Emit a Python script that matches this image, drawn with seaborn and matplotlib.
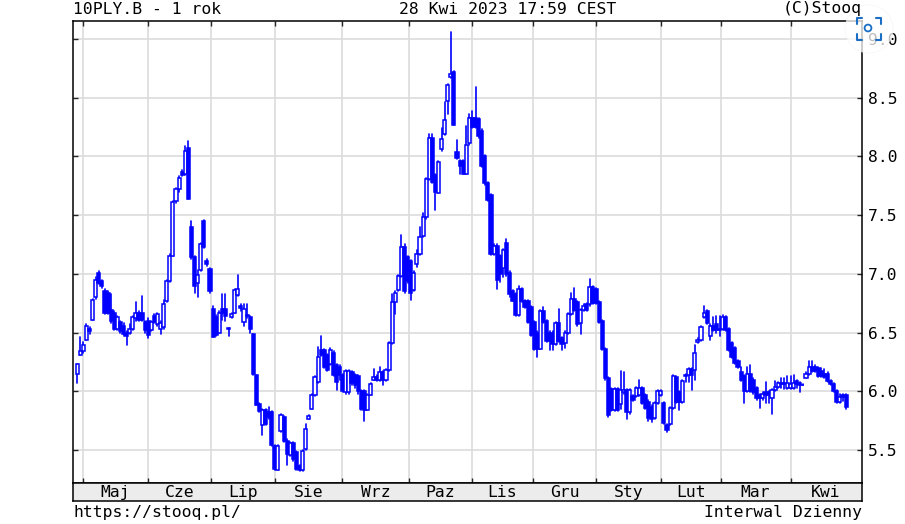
# stooq style candles, 10PLY.B - 1 rok
import numpy as np
import pandas as pd
import matplotlib
matplotlib.use("Agg")
import matplotlib.pyplot as plt
from matplotlib.patches import Circle
import seaborn as sns

opens = [6.15,6.31,6.34,6.44,6.53,6.61,6.80,7.01,6.94,6.85,
6.84,6.69,6.67,6.53,6.59,6.56,6.50,6.50,6.53,6.62,
6.67,6.67,6.59,6.60,6.52,6.64,6.57,6.53,6.55,6.77,
6.94,7.155,7.62,7.72,7.87,7.85,8.07,7.40,7.14,6.92,
7.03,7.45,7.11,7.04,6.70,6.63,6.50,6.70,6.70,6.535,
6.63,6.67,6.82,6.73,6.59,6.65,6.63,6.49,6.14,5.89,
5.71,5.84,5.82,5.82,5.53,5.33,5.66,5.78,5.58,5.46,
5.56,5.48,5.36,5.33,5.51,5.765,5.85,5.97,6.08,6.35,
6.35,6.31,6.235,6.33,6.22,6.21,6.14,5.99,5.99,6.16,
6.14,6.13,6.00,6.00,5.84,5.97,6.10,6.12,6.10,6.16,
6.10,6.18,6.41,6.76,6.86,6.98,7.23,7.14,7.11,6.86,
7.08,7.17,7.32,7.48,7.81,8.16,7.84,7.69,8.06,8.19,
8.47,8.68,8.72,8.04,7.96,7.96,7.85,8.11,8.33,8.33,
8.32,8.22,8.00,7.77,7.67,7.17,7.24,7.15,7.05,7.26,
7.01,6.85,6.83,6.65,6.87,6.77,6.77,6.72,6.59,6.50,
6.36,6.68,6.60,6.50,6.50,6.40,6.58,6.45,6.41,6.50,
6.66,6.79,6.76,6.58,6.69,6.74,6.74,6.89,6.87,6.76,
6.60,6.36,6.11,6.02,5.84,6.02,5.89,5.99,6.01,5.82,
5.96,5.96,5.97,6.03,5.97,5.91,5.87,5.77,5.90,5.97,
5.90,5.71,5.72,5.86,6.12,5.99,5.91,6.13,6.14,6.19,
6.18,6.42,6.44,6.63,6.68,6.47,6.56,6.57,6.52,6.53,
6.63,6.53,6.41,6.37,6.26,6.16,6.13,6.00,6.15,6.10,
6.03,5.97,5.94,5.99,5.99,5.94,6.01,6.04,6.07,6.07,
6.03,6.03,6.03,6.09,6.07,6.055,6.115,6.15,6.21,6.21,
6.20,6.17,6.15,6.15,6.09,6.06,6.00,5.91,5.97,5.97]

closes = [6.23,6.34,6.39,6.56,6.51,6.78,6.95,6.92,6.90,6.67,
6.67,6.60,6.53,6.63,6.51,6.49,6.47,6.53,6.63,6.67,
6.61,6.61,6.52,6.48,6.59,6.59,6.66,6.58,6.74,6.94,
7.15,7.615,7.72,7.82,7.84,8.05,7.64,7.14,6.90,6.99,
7.25,7.23,7.08,6.85,6.46,6.48,6.67,6.67,6.64,6.53,
6.66,6.86,6.87,6.71,6.70,6.64,6.53,6.145,5.88,5.83,
5.84,5.72,5.78,5.54,5.34,5.53,5.80,5.58,5.47,5.56,
5.42,5.34,5.33,5.49,5.68,5.79,5.97,6.12,6.29,6.31,
6.21,6.18,6.35,6.14,6.08,6.14,6.00,6.17,6.17,6.07,
6.05,6.00,5.85,5.84,5.97,6.06,6.12,6.10,6.16,6.10,
6.18,6.41,6.76,6.84,6.98,7.23,6.85,6.94,6.84,7.01,
7.17,7.31,7.48,7.81,8.16,7.78,7.70,7.95,8.15,8.31,
8.61,8.70,8.27,7.99,7.92,7.85,8.10,8.33,8.25,8.25,
8.17,7.92,7.77,7.63,7.17,7.24,6.95,7.00,7.20,7.00,
6.83,6.77,6.65,6.87,6.77,6.72,6.59,6.48,6.36,6.36,
6.68,6.59,6.43,6.43,6.40,6.58,6.43,6.40,6.50,6.66,
6.79,6.69,6.57,6.69,6.73,6.69,6.89,6.75,6.75,6.59,
6.36,6.11,5.80,5.84,6.02,5.84,6.01,6.01,5.82,6.01,
5.93,6.03,6.03,5.90,5.86,5.77,5.76,5.90,6.00,6.00,
5.73,5.67,5.86,6.13,5.91,5.91,6.09,6.14,6.19,6.14,
6.33,6.44,6.55,6.67,6.58,6.56,6.52,6.52,6.53,6.63,
6.52,6.35,6.29,6.24,6.21,6.10,6.00,6.15,6.00,5.99,
5.94,5.94,5.98,5.97,5.97,6.01,6.04,6.07,6.06,6.06,
6.07,6.06,6.07,6.06,6.05,6.05,6.15,6.21,6.17,6.17,
6.13,6.13,6.12,6.09,6.06,6.00,5.91,5.95,5.95,5.87]

highs = [6.23,6.46,6.42,6.57,6.55,6.79,6.97,7.02,6.95,6.87,
6.85,6.83,6.68,6.64,6.60,6.58,6.51,6.57,6.64,6.76,
6.68,6.81,6.60,6.62,6.60,6.66,6.67,6.60,6.78,6.95,
7.17,7.62,7.73,7.83,7.88,8.09,8.13,7.45,7.15,7.03,
7.26,7.46,7.13,7.05,6.73,6.65,6.68,6.83,6.83,6.54,
6.67,6.87,6.99,6.74,6.74,6.74,6.64,6.49,6.14,5.90,
5.85,5.85,5.87,5.83,5.54,5.54,5.81,5.79,5.59,5.57,
5.57,5.49,5.37,5.50,5.72,5.80,5.98,6.13,6.38,6.47,
6.36,6.32,6.37,6.34,6.23,6.22,6.15,6.18,6.18,6.17,
6.15,6.14,6.01,6.01,5.98,6.07,6.19,6.14,6.21,6.17,
6.19,6.42,6.83,6.85,6.99,7.33,7.25,7.15,7.12,7.02,
7.20,7.40,7.52,7.82,8.19,8.19,7.85,7.96,8.24,8.46,
8.62,9.06,8.73,8.14,7.97,7.97,8.26,8.36,8.39,8.59,
8.33,8.23,8.01,7.78,7.68,7.25,7.25,7.16,7.21,7.30,
7.02,6.86,6.84,6.90,6.88,6.78,6.78,6.73,6.60,6.51,
6.69,6.72,6.61,6.51,6.51,6.59,6.70,6.46,6.51,6.67,
6.84,6.88,6.77,6.70,6.74,6.75,6.96,6.90,6.88,6.77,
6.61,6.37,6.12,6.03,6.03,6.03,6.17,6.16,6.02,6.02,
5.97,6.04,6.10,6.04,5.98,5.93,5.88,5.91,6.01,6.01,
5.91,5.72,5.87,6.14,6.13,6.00,6.10,6.15,6.20,6.20,
6.39,6.45,6.56,6.73,6.69,6.57,6.63,6.64,6.64,6.65,
6.64,6.54,6.42,6.38,6.27,6.21,6.14,6.21,6.22,6.11,
6.04,5.98,5.99,6.08,6.00,6.02,6.09,6.08,6.11,6.11,
6.13,6.13,6.14,6.10,6.08,6.06,6.16,6.26,6.26,6.22,
6.21,6.20,6.19,6.16,6.10,6.07,6.01,5.98,5.98,5.98]

lows = [6.07,6.31,6.33,6.44,6.49,6.61,6.79,6.91,6.88,6.66,
6.66,6.58,6.52,6.52,6.50,6.47,6.39,6.49,6.52,6.60,
6.60,6.60,6.50,6.45,6.51,6.58,6.56,6.49,6.53,6.76,
6.93,7.15,7.60,7.70,7.83,7.84,7.64,7.13,6.84,6.80,
7.02,7.22,7.07,6.84,6.46,6.47,6.50,6.61,6.60,6.47,
6.62,6.67,6.81,6.68,6.56,6.62,6.50,6.14,5.88,5.82,
5.63,5.71,5.76,5.53,5.33,5.33,5.65,5.57,5.37,5.45,
5.41,5.33,5.32,5.32,5.50,5.76,5.85,5.96,6.07,6.30,
6.20,6.17,6.22,6.13,6.01,6.10,5.99,5.98,5.98,6.05,
6.03,5.98,5.84,5.75,5.84,5.97,6.10,6.09,6.09,6.05,
6.09,6.17,6.40,6.66,6.85,6.97,6.84,6.92,6.78,6.85,
7.06,7.16,7.31,7.47,7.80,7.77,7.54,7.69,8.05,8.18,
8.36,8.67,8.27,7.98,7.85,7.85,7.85,8.10,8.24,8.24,
8.16,7.91,7.76,7.62,7.16,7.16,6.87,6.93,6.97,6.98,
6.80,6.77,6.64,6.64,6.76,6.71,6.58,6.47,6.35,6.29,
6.36,6.58,6.42,6.35,6.35,6.39,6.42,6.35,6.37,6.49,
6.65,6.68,6.56,6.49,6.68,6.68,6.73,6.74,6.74,6.58,
6.35,6.10,5.78,5.83,5.83,5.83,5.85,5.98,5.76,5.81,
5.92,5.95,5.96,5.89,5.85,5.75,5.74,5.76,5.89,5.96,
5.72,5.65,5.71,5.85,5.90,5.84,5.90,6.08,6.08,6.01,
6.10,6.41,6.43,6.62,6.57,6.44,6.51,6.50,6.47,6.52,
6.51,6.34,6.28,6.23,6.20,6.09,5.90,5.99,5.99,5.98,
5.93,5.86,5.93,5.90,5.90,5.81,6.00,6.03,6.03,6.02,
6.02,6.02,6.02,6.03,5.99,6.05,6.11,6.14,6.16,6.16,
6.12,6.12,6.11,6.08,6.05,5.99,5.90,5.90,5.92,5.85]

month_ticks = [1.9, 23, 43.4, 64.1, 85.8, 107.4, 127.8, 147.6, 168, 189, 208.4, 231]
month_labels = ["Maj", "Cze", "Lip", "Sie", "Wrz", "Paz", "Lis", "Gru", "Sty", "Lut", "Mar", "Kwi"]
price_ticks = [5.5, 6.0, 6.5, 7.0, 7.5, 8.0, 8.5, 9.0]

W, H = 905, 524
XMIN, XMAX = -1.46, 254.05
BLUE = "#0000ff"

sns.set_theme(style="white", rc={"axes.linewidth": 1.1, "axes.edgecolor": "black"})
plt.rcParams["font.family"] = ["DejaVu Sans Mono"]
FS = 11.8

df = pd.DataFrame({"day": np.arange(len(opens)), "open": opens, "close": closes, "high": highs, "low": lows})
wicks = df.melt(id_vars="day", value_vars=["low", "high"], value_name="price")

fig = plt.figure(figsize=(W / 100, H / 100), dpi=100)
ax = fig.add_axes([72.7 / W, 1 - 483 / H, (861.7 - 72.7) / W, (483 - 21) / H])
strip = fig.add_axes([72.7 / W, 1 - 500.7 / H, (861.7 - 72.7) / W, 17.7 / H], sharex=ax)

# wicks first, the bodies cover them
sns.lineplot(data=wicks, x="day", y="price", units="day", estimator=None, color=BLUE,
             lw=1.2, legend=False, ax=ax, zorder=3)

up = df["close"] > df["open"]
ax.bar(df["day"], (df["close"] - df["open"]).abs(), bottom=df[["open", "close"]].min(axis=1),
       width=1.0, color=np.where(up, "white", BLUE).tolist(), edgecolor=BLUE, linewidth=1.1, zorder=4)

ax.set_xlim(XMIN, XMAX)
ax.set_ylim(5.219, 9.153)
ax.set_xticks(month_ticks)
ax.set_yticks(price_ticks)
ax.set_yticklabels([f"{p:.1f}" for p in price_ticks], fontsize=FS, color="black")
ax.grid(True, color="#dcdcdc", lw=1.2, zorder=0)
ax.set_axisbelow(True)
ax.set_xlabel("")
ax.set_ylabel("")
ax.tick_params(axis="y", direction="in", length=3.5, width=1, left=True, right=True,
               labelleft=False, labelright=True, pad=4.5)
ax.tick_params(axis="x", direction="in", length=3.5, width=1, top=True, bottom=True, labelbottom=False)

# month strip under the chart
edges = month_ticks + [XMAX]
strip.set_facecolor("#ececec")
strip.set_yticks([])
strip.tick_params(axis="x", length=0, labelbottom=False)
for i, name in enumerate(month_labels):
    strip.text((edges[i] + edges[i + 1]) / 2, 0.47, name, fontsize=FS, color="black", ha="center", va="center",
               transform=strip.get_xaxis_transform())

fig.text(73 / W, 1 - 9 / H, "10PLY.B - 1 rok", fontsize=FS, va="center", ha="left", color="black")
fig.text(508 / W, 1 - 9 / H, "28 Kwi 2023 17:59 CEST", fontsize=FS, va="center", ha="center", color="black")
fig.text(862 / W, 1 - 9 / H, "(C)Stooq", fontsize=FS, va="center", ha="right", color="black")
fig.text(73 / W, 1 - 513 / H, "https://stooq.pl/", fontsize=FS, va="center", ha="left", color="black")
fig.text(862 / W, 1 - 513 / H, "Interwal Dzienny", fontsize=FS, va="center", ha="right", color="black")

# the round scan badge that sits over the top right corner of the screenshot
over = fig.add_axes([0, 0, 1, 1], facecolor="none")
over.set_xlim(0, W)
over.set_ylim(H, 0)
over.axis("off")
over.add_patch(Circle((869, 29), 24, facecolor="white", edgecolor="#f2f2f2", lw=0.5, alpha=0.75))
for xs, ys in [([857, 857, 862], [24, 18, 18]), ([876, 881, 881], [18, 18, 24]),
               ([857, 857, 862], [34, 40, 40]), ([876, 881, 881], [40, 40, 34])]:
    over.plot(xs, ys, color="#1a6fc4", lw=1.5, solid_capstyle="round")
over.add_patch(Circle((868, 28), 3.4, facecolor="none", edgecolor="#1a6fc4", lw=1.3))

fig.savefig("out.png", dpi=100)
